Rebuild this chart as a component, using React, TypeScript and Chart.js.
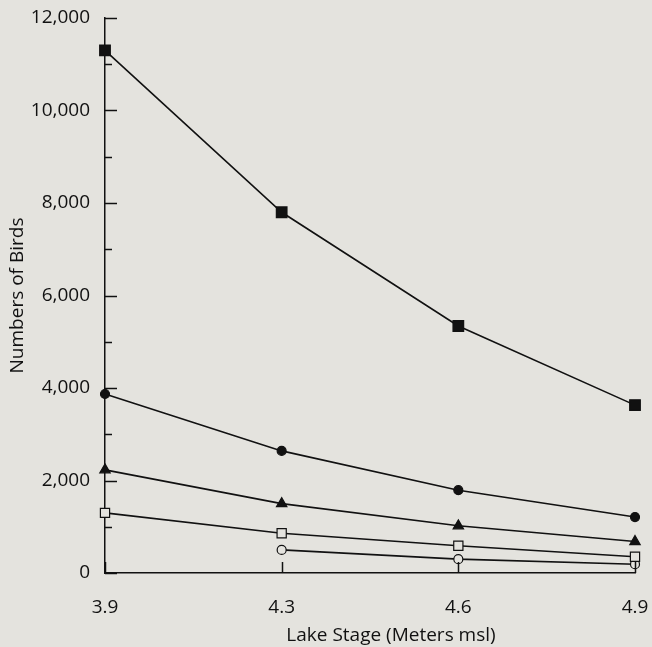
import React, { useEffect, useRef } from "react";
import { Chart, registerables } from "chart.js";

Chart.register(...registerables);

const lakeStages = ["3.9", "4.3", "4.6", "4.9"];
const seriesFilledSquare = [11300, 7800, 5340, 3630];
const seriesFilledCircle = [3870, 2640, 1790, 1210];
const seriesFilledTriangle = [2230, 1500, 1020, 680];
const seriesOpenSquare = [1300, 860, 590, 350];
const seriesOpenCircle = [null, 500, 300, 190];
const yMin = 0;
const yMax = 12000;
const yStep = 1000;
const yLabelStep = 2000;
const xTitle = "Lake Stage (Meters msl)";
const yTitle = "Numbers of Birds";

const BG = "#e4e3de";
const INK = "#111111";
const FONT = "'Open Sans', 'DejaVu Sans', sans-serif";
const FS = 19;

const inwardTicks = {
  id: "inwardTicks",
  afterDatasetsDraw(chart: any) {
    const { ctx, chartArea, scales } = chart;
    const ys = scales.y;
    const xs = scales.x;
    ctx.save();
    ctx.strokeStyle = INK;
    ctx.lineWidth = 1.5;
    ys.ticks.forEach((t: any) => {
      const py = Math.round(ys.getPixelForValue(t.value)) + 0.5;
      const len = t.value % yLabelStep === 0 ? 12 : 7;
      ctx.beginPath();
      ctx.moveTo(chartArea.left, py);
      ctx.lineTo(chartArea.left + len, py);
      ctx.stroke();
    });
    lakeStages.forEach((_, i) => {
      const px = Math.round(xs.getPixelForValue(i)) + 0.5;
      ctx.beginPath();
      ctx.moveTo(px, chartArea.bottom);
      ctx.lineTo(px, chartArea.bottom - 11);
      ctx.stroke();
    });
    // x-axis title, set slightly right of centre as in the original figure
    ctx.fillStyle = INK;
    ctx.font = `${FS}px ${FONT}`;
    ctx.textAlign = "center";
    ctx.textBaseline = "middle";
    ctx.fillText(xTitle, (chartArea.left + chartArea.right) / 2 + 21, chart.height - 11);
    ctx.restore();
  },
};

const common = {
  borderColor: INK,
  borderWidth: 1.6,
  pointBorderColor: INK,
  pointBorderWidth: 1.2,
  tension: 0,
  spanGaps: false,
};

export default function App() {
  const ref = useRef<HTMLCanvasElement | null>(null);
  useEffect(() => {
    if (!ref.current) return;
    const chart = new Chart(ref.current, {
      type: "line",
      data: {
        labels: lakeStages,
        datasets: [
          { ...common, label: "A", data: seriesFilledSquare, pointStyle: "rect", pointRadius: 7.5, pointBackgroundColor: INK },
          { ...common, label: "B", data: seriesFilledCircle, pointStyle: "circle", pointRadius: 4.5, pointBackgroundColor: INK },
          { ...common, label: "C", data: seriesFilledTriangle, pointStyle: "triangle", pointRadius: 6, pointBackgroundColor: INK },
          { ...common, label: "D", data: seriesOpenSquare, pointStyle: "rect", pointRadius: 6.5, pointBackgroundColor: BG },
          { ...common, label: "E", data: seriesOpenCircle, pointStyle: "circle", pointRadius: 4.5, pointBackgroundColor: BG },
        ],
      },
      options: {
        responsive: false,
        animation: false,
        events: [],
        layout: { autoPadding: false, padding: { top: 18, right: 17, bottom: 0, left: 0 } },
        plugins: { legend: { display: false }, tooltip: { enabled: false }, title: { display: false } },
        scales: {
          x: {
            type: "category",
            offset: false,
            grid: { display: false, drawTicks: false },
            border: { display: true, color: INK, width: 1.5 },
            ticks: { color: INK, padding: 23, font: { family: FONT, size: FS }, maxRotation: 0 },
            title: { display: false, text: xTitle },
            afterFit(scale: any) {
              scale.height = 74;
              scale.paddingLeft = 0;
              scale.paddingRight = 0;
            },
          },
          y: {
            min: yMin,
            max: yMax,
            grid: { display: false, drawTicks: false },
            border: { display: true, color: INK, width: 1.5 },
            ticks: {
              stepSize: yStep,
              autoSkip: false,
              color: INK,
              padding: 15,
              font: { family: FONT, size: FS },
              callback: (v: any) => (Number(v) % yLabelStep === 0 ? Number(v).toLocaleString("en-US") : ""),
            },
            title: {
              display: true,
              text: yTitle,
              color: INK,
              font: { family: FONT, size: FS },
              padding: { top: 6, bottom: 0 },
            },
            afterFit(scale: any) {
              scale.width = 105;
              scale.paddingTop = 0;
              scale.paddingBottom = 0;
            },
          },
        },
      },
      plugins: [inwardTicks],
    });
    return () => chart.destroy();
  }, []);
  return (
    <div style={{ position: "fixed", left: 0, top: 0, width: 652, height: 647, background: BG }}>
      <canvas ref={ref} width={652} height={647} style={{ display: "block" }} />
    </div>
  );
}
